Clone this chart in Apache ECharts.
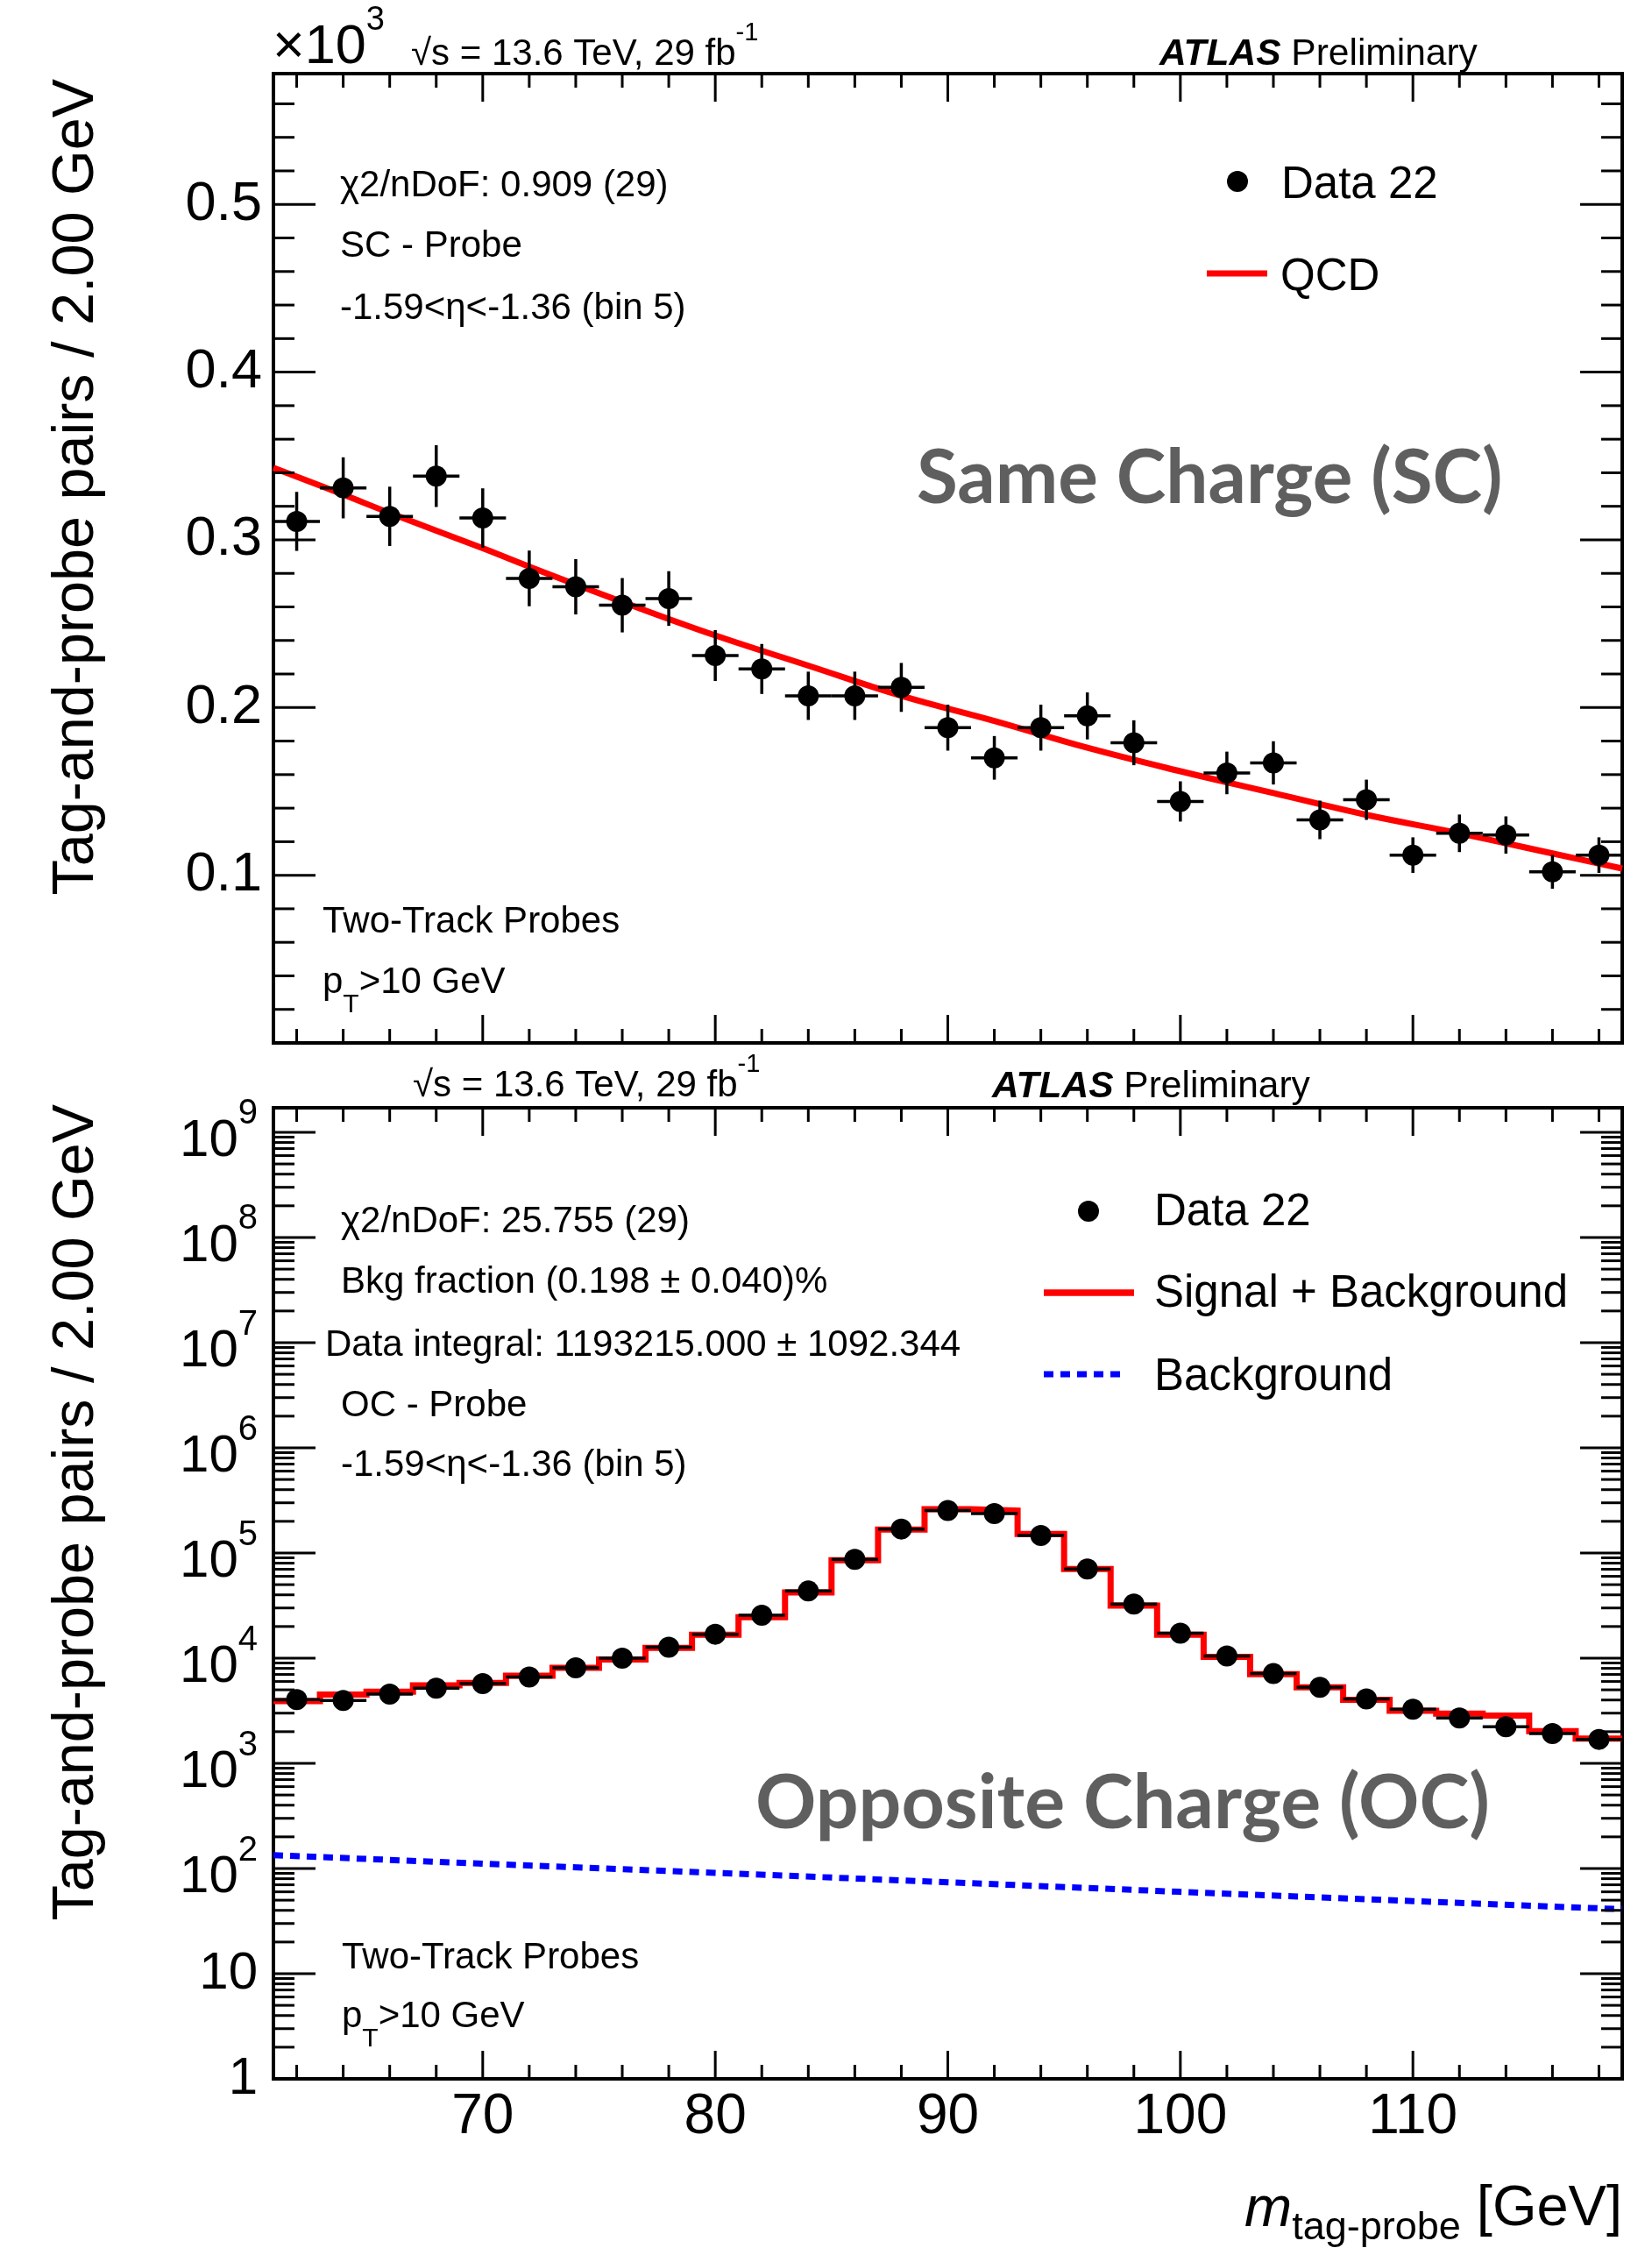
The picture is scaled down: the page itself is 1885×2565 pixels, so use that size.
<!DOCTYPE html>
<html>
<head>
<meta charset="utf-8">
<title>Tag-and-probe mass fits, bin 5</title>
<script src="https://cdn.jsdelivr.net/npm/echarts@6.0.0/dist/echarts.min.js"></script>
<style>
  html, body { margin: 0; padding: 0; background: #fff; }
  #main { width: 1885px; height: 2565px; }
</style>
</head>
<body>
<div id="main"></div>
<script>
// 2 GeV mass bins (bin centres)
const massBins = [62, 64, 66, 68, 70, 72, 74, 76, 78, 80, 82, 84, 86, 88, 90,
                  92, 94, 96, 98, 100, 102, 104, 106, 108, 110, 112, 114, 116, 118];

// same charge probes (top pad)
const scCounts = [311, 331, 314, 338, 313, 277, 272, 261, 265, 231, 223, 207, 207, 212, 188,
                  170, 188, 195, 179, 144, 161, 167, 133, 145, 112, 125, 124, 102, 112];
const scErrors = [17.6, 18.2, 17.7, 18.4, 17.7, 16.6, 16.5, 16.2, 16.3, 15.2, 14.9, 14.4, 14.4, 14.6, 13.7,
                  13.0, 13.7, 14.0, 13.4, 12.0, 12.7, 12.9, 11.5, 12.0, 10.6, 11.2, 11.1, 10.1, 10.6];
const qcdMass = [61, 64, 66, 70, 72, 76, 80, 84, 88, 92, 96, 100, 104, 108, 112, 116, 119];
const qcdFit  = [343, 327, 316, 295, 284, 263, 243, 225, 207, 192, 176, 162, 149, 136, 125, 113, 104];

// opposite charge probes (bottom pad)
const ocCounts  = [4040, 3960, 4550, 5180, 5730, 6610, 8090, 10000, 12700, 16900, 25600, 43500, 86900, 169000, 253000,
                   237000, 147000, 70400, 32700, 17300, 10500, 7130, 5280, 4090, 3270, 2700, 2230, 1920, 1690];
const sigBkgFit = [3900, 4500, 4800, 5520, 5800, 6810, 8090, 9690, 12500, 16700, 24500, 42200, 85300, 167000, 261000,
                   253000, 152000, 70300, 31600, 16700, 10300, 7040, 5280, 4010, 3160, 2970, 2840, 2020, 1720];
const bkgMass = [61, 70, 80, 90, 100, 110, 119];
const bkgFit  = [134, 111, 91, 74, 60, 49, 41];

// tick labels
const massLabels = [70, 80, 90, 100, 110];
const scLabels = [100, 200, 300, 400, 500];
const ocLabels = [1, 10, 1e2, 1e3, 1e4, 1e5, 1e6, 1e7, 1e8, 1e9];

const FONT = '"Liberation Sans", Arial, Helvetica, sans-serif';
const BIG_FONT = 'Lato, "Open Sans", sans-serif';
const X_MIN = 61, X_MAX = 119;
const SC_MIN = 0, SC_MAX = 578;
const OC_MIN = 1, OC_MAX = 1.71e9;

const chart = echarts.init(document.getElementById('main'), null, { width: 1885, height: 2565 });

function powLabel(v) {
  const e = Math.round(Math.log10(v));
  if (e === 0) return '{b|1}';
  if (e === 1) return '{b|10}';
  return '{b|10}{s|' + e + '}';
}

// data points with error bars, ROOT style
function pointsRender(params, api) {
  const x = api.value(0), y = api.value(1), e = api.value(2);
  const c = api.coord([x, y]);
  const l = api.coord([x - 1, y]), r = api.coord([x + 1, y]);
  const kids = [{ type: 'line', shape: { x1: l[0], y1: l[1], x2: r[0], y2: r[1] },
                  style: { stroke: '#000', lineWidth: 3.5 } }];
  if (e > 0) {
    const lo = api.coord([x, y - e]), hi = api.coord([x, y + e]);
    kids.push({ type: 'line', shape: { x1: lo[0], y1: lo[1], x2: hi[0], y2: hi[1] },
                style: { stroke: '#000', lineWidth: 3.5 } });
  }
  kids.push({ type: 'circle', shape: { cx: c[0], cy: c[1], r: 12 }, style: { fill: '#000' } });
  return { type: 'group', children: kids };
}

const hiddenAxis = {
  axisLine: { show: false }, axisTick: { show: false },
  splitLine: { show: false }, minorTick: { show: false }
};

const sbStep = massBins.map((m, i) => [m - 1, sigBkgFit[i]])
  .concat([[massBins[massBins.length - 1] + 1, sigBkgFit[sigBkgFit.length - 1]]]);

const option = {
  animation: false,
  backgroundColor: '#fff',
  textStyle: { fontFamily: FONT },
  grid: [
    { left: 312, top: 84, width: 1539, height: 1106, show: true,
      borderColor: '#000', borderWidth: 4, backgroundColor: 'transparent' },
    { left: 312, top: 1264, width: 1539, height: 1108, show: true,
      borderColor: '#000', borderWidth: 4, backgroundColor: 'transparent' }
  ],
  xAxis: [
    Object.assign({ gridIndex: 0, type: 'value', min: X_MIN, max: X_MAX,
      axisLabel: { show: false } }, hiddenAxis),
    Object.assign({ gridIndex: 1, type: 'value', min: X_MIN, max: X_MAX,
      axisLabel: { show: true, customValues: massLabels, fontSize: 64, fontFamily: FONT,
                   color: '#000', margin: 12 } }, hiddenAxis)
  ],
  yAxis: [
    Object.assign({ gridIndex: 0, type: 'value', min: SC_MIN, max: SC_MAX,
      axisLabel: { show: true, customValues: scLabels, fontSize: 63, fontFamily: FONT,
                   color: '#000', margin: 13, formatter: v => String(v / 1000) } }, hiddenAxis),
    Object.assign({ gridIndex: 1, type: 'log', logBase: 10, min: OC_MIN, max: OC_MAX,
      axisLabel: { show: true, customValues: ocLabels, margin: 18, formatter: powLabel,
        rich: {
          b: { fontSize: 60, fontFamily: FONT, color: '#000', lineHeight: 60, verticalAlign: 'bottom' },
          s: { fontSize: 40, fontFamily: FONT, color: '#000', lineHeight: 81, verticalAlign: 'top' }
        } } }, hiddenAxis)
  ],
  series: [
    { name: 'QCD', type: 'line', xAxisIndex: 0, yAxisIndex: 0,
      data: qcdMass.map((m, i) => [m, qcdFit[i]]),
      smooth: 0.4, symbol: 'none', z: 3,
      lineStyle: { color: '#ff0000', width: 7 } },
    { name: 'Data 22 SC', type: 'custom', xAxisIndex: 0, yAxisIndex: 0,
      data: massBins.map((m, i) => [m, scCounts[i], scErrors[i]]),
      encode: { x: 0, y: 1 }, renderItem: pointsRender, z: 5 },
    { name: 'Background', type: 'line', xAxisIndex: 1, yAxisIndex: 1,
      data: bkgMass.map((m, i) => [m, bkgFit[i]]),
      symbol: 'none', z: 3,
      lineStyle: { color: '#0000ff', width: 7, type: [11, 8], cap: 'butt' } },
    { name: 'Signal + Background', type: 'line', xAxisIndex: 1, yAxisIndex: 1,
      data: sbStep, step: 'end', symbol: 'none', z: 3,
      lineStyle: { color: '#ff0000', width: 7, join: 'miter' } },
    { name: 'Data 22 OC', type: 'custom', xAxisIndex: 1, yAxisIndex: 1,
      data: massBins.map((m, i) => [m, ocCounts[i], 0]),
      encode: { x: 0, y: 1 }, renderItem: pointsRender, z: 5 }
  ]
};

chart.setOption(option);

// ---- texts ----
function label(x, y, text, size, o) {
  o = o || {};
  const h = o.align || 'left', v = o.valign || 'middle';
  return {
    type: 'text', x: x, y: y, rotation: o.rotation || 0, silent: true, z: 60,
    style: {
      text: text, fontSize: size, fontFamily: o.family || FONT,
      fontWeight: o.weight || 'normal', fontStyle: o.style || 'normal',
      fill: o.color || '#000', align: h, verticalAlign: v,
      textAlign: h, textVerticalAlign: v, rich: o.rich
    }
  };
}
function tok(size, extra) {
  return Object.assign({ fontSize: size, fontFamily: FONT, fill: '#000' }, extra || {});
}

const sqrtsRich = {
  m: tok(42, { lineHeight: 42, verticalAlign: 'bottom' }),
  s: tok(29, { lineHeight: 60, verticalAlign: 'top' })
};
const atlasRich = {
  b: tok(42.5, { fontWeight: 'bold', fontStyle: 'italic' }),
  n: tok(42.5)
};
const ptRich = {
  a: tok(42, { lineHeight: 42, verticalAlign: 'top' }),
  t: tok(30, { lineHeight: 62, verticalAlign: 'bottom' })
};
const YTITLE = 'Tag-and-probe pairs / 2.00 GeV';
const INFO = 42, LEG = 51;

const texts = [
  // top pad header
  label(311, 5, '{b|×10}{s|3}', 63, { valign: 'top', rich: {
    b: tok(63, { lineHeight: 63, verticalAlign: 'bottom' }),
    s: tok(38, { lineHeight: 81, verticalAlign: 'top' }) } }),
  label(469, 23, '{m|√s = 13.6 TeV, 29 fb}{s|-1}', 42, { valign: 'top', rich: sqrtsRich }),
  label(1323, 62, '{b|ATLAS}{n| Preliminary}', 42.5, { rich: atlasRich }),
  label(388, 212, 'χ2/nDoF: 0.909 (29)', INFO),
  label(388, 281, 'SC - Probe', INFO),
  label(388, 352, '-1.59<η<-1.36 (bin 5)', INFO),
  label(368, 1052, 'Two-Track Probes', INFO),
  label(368, 1100, '{a|p}{t|T}{a|>10 GeV}', INFO, { valign: 'top', rich: ptRich }),
  label(1046, 546, 'Same Charge (SC)', 85.5, { family: BIG_FONT, weight: 'bold', color: '#5f5f5f' }),
  label(88, 90, YTITLE, 66.5, { align: 'right', rotation: Math.PI / 2 }),
  // top legend
  { type: 'circle', shape: { cx: 1412, cy: 207, r: 12 }, style: { fill: '#000' }, z: 60 },
  label(1462, 212, 'Data 22', LEG),
  { type: 'line', shape: { x1: 1377, y1: 312, x2: 1446, y2: 312 },
    style: { stroke: '#ff0000', lineWidth: 7 }, z: 60 },
  label(1461, 317, 'QCD', LEG),

  // bottom pad header
  label(471, 1200, '{m|√s = 13.6 TeV, 29 fb}{s|-1}', 42, { valign: 'top', rich: sqrtsRich }),
  label(1132, 1240, '{b|ATLAS}{n| Preliminary}', 42.5, { rich: atlasRich }),
  label(389, 1394, 'χ2/nDoF: 25.755 (29)', INFO),
  label(389, 1463, 'Bkg fraction (0.198 ± 0.040)%', INFO),
  label(371, 1535, 'Data integral: 1193215.000 ± 1092.344', INFO),
  label(389, 1604, 'OC - Probe', INFO),
  label(389, 1672, '-1.59<η<-1.36 (bin 5)', INFO),
  label(390, 2234, 'Two-Track Probes', INFO),
  label(390, 2280, '{a|p}{t|T}{a|>10 GeV}', INFO, { valign: 'top', rich: ptRich }),
  label(862, 2058, 'Opposite Charge (OC)', 86, { family: BIG_FONT, weight: 'bold', color: '#5f5f5f' }),
  label(88, 1260, YTITLE, 66.5, { align: 'right', rotation: Math.PI / 2 }),
  // bottom legend
  { type: 'circle', shape: { cx: 1242, cy: 1382, r: 12 }, style: { fill: '#000' }, z: 60 },
  label(1317, 1384, 'Data 22', LEG),
  { type: 'line', shape: { x1: 1191, y1: 1475, x2: 1294, y2: 1475 },
    style: { stroke: '#ff0000', lineWidth: 7.5 }, z: 60 },
  label(1317, 1477, 'Signal + Background', LEG),
  { type: 'line', shape: { x1: 1191, y1: 1568, x2: 1286, y2: 1568 },
    style: { stroke: '#0000ff', lineWidth: 7, lineDash: [11, 8] }, z: 60 },
  label(1317, 1572, 'Background', LEG),

  // x axis title
  label(1851, 2489, '{m|m}{s|tag-probe}{g| [GeV]}', 65, { align: 'right', valign: 'top', rich: {
    m: tok(65, { fontStyle: 'italic', lineHeight: 65, verticalAlign: 'top' }),
    s: tok(45, { lineHeight: 76, verticalAlign: 'bottom' }),
    g: tok(65, { lineHeight: 65, verticalAlign: 'top' }) } })
];

// ---- ROOT style inward ticks on all four sides ----
function tickLines(gi, xMaj, xMin, yMaj, yMin, yLo, yHi) {
  const out = [];
  const px = (x, y) => chart.convertToPixel({ gridIndex: gi }, [x, y]);
  const add = (x1, y1, x2, y2) => out.push({ type: 'line', silent: true, z: 50,
    shape: { x1: x1, y1: y1, x2: x2, y2: y2 }, style: { stroke: '#000', lineWidth: 3 } });
  [[xMaj, 32], [xMin, 16]].forEach(([vals, len]) => vals.forEach(v => {
    const b = px(v, yLo), t = px(v, yHi);
    add(b[0], b[1], b[0], b[1] - len);
    add(t[0], t[1], t[0], t[1] + len);
  }));
  [[yMaj, 48], [yMin, 24]].forEach(([vals, len]) => vals.forEach(v => {
    const a = px(X_MIN, v), b = px(X_MAX, v);
    add(a[0], a[1], a[0] + len, a[1]);
    add(b[0], b[1], b[0] - len, b[1]);
  }));
  return out;
}
const xMinorTicks = [];
for (let m = 62; m < X_MAX; m += 2) if (m % 10 !== 0) xMinorTicks.push(m);
const scMinorTicks = [];
for (let v = 20; v < SC_MAX; v += 20) if (v % 100 !== 0) scMinorTicks.push(v);
const ocMinorTicks = [];
for (let d = 0; d <= 9; d++) for (let k = 2; k <= 9; k++) {
  const v = k * Math.pow(10, d);
  if (v < OC_MAX) ocMinorTicks.push(v);
}

const ticks = tickLines(0, massLabels, xMinorTicks, scLabels, scMinorTicks, SC_MIN, SC_MAX)
  .concat(tickLines(1, massLabels, xMinorTicks, ocLabels.slice(1), ocMinorTicks, OC_MIN, OC_MAX));

chart.setOption({ graphic: { elements: texts.concat(ticks) } });
</script>
</body>
</html>
